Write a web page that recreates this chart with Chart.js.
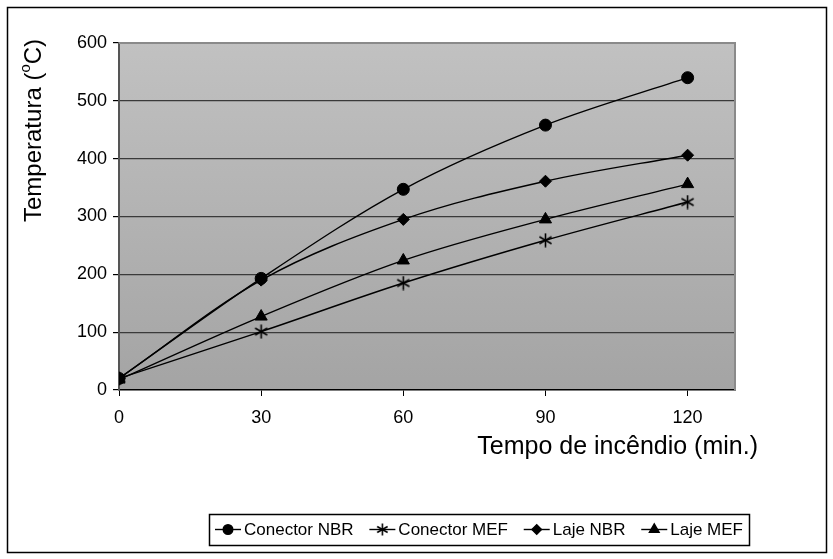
<!DOCTYPE html>
<html lang="pt">
<head>
  <meta charset="UTF-8" />
  <title>Temperatura x Tempo de incêndio</title>
  <script src="https://cdn.jsdelivr.net/npm/chart.js"></script>
  <style>
    body {
      margin: 0;
      background: #fff;
    }
    #wrap {
      width: 833px;
      height: 559px;
      position: relative;
    }
  </style>
</head>
<body>
  <div id="wrap">
    <canvas id="tempChart" width="833" height="559"></canvas>
  </div>

  <script>
    // tempo (min.) e temperaturas (oC) de cada série
    const tempos = [0, 30, 60, 90, 120];
    const conectorNBR = [20, 193, 347, 458, 540];
    const conectorMEF = [20, 101, 185, 259, 325];
    const lajeNBR = [20, 190, 295, 361, 406];
    const lajeMEF = [18, 127, 224, 295, 356];
    const nomes = ['Conector NBR', 'Conector MEF', 'Laje NBR', 'Laje MEF'];
    const yTicks = [0, 100, 200, 300, 400, 500, 600];
    const xTicks = [0, 30, 60, 90, 120];

    const FONT = 'Liberation Sans, Arial, sans-serif';

    // asterisco de seis pontas (Chart.js só tem a estrela de oito)
    function makeAsterisk(size) {
      const c = document.createElement('canvas');
      c.width = size;
      c.height = size;
      const g = c.getContext('2d');
      const r = size / 2 - 0.5;
      g.strokeStyle = '#000';
      g.lineWidth = 1.6;
      g.translate(size / 2, size / 2);
      for (let i = 0; i < 3; i++) {
        const a = Math.PI / 2 + i * Math.PI / 3;
        g.beginPath();
        g.moveTo(Math.cos(a) * r, Math.sin(a) * r);
        g.lineTo(-Math.cos(a) * r, -Math.sin(a) * r);
        g.stroke();
      }
      return c;
    }
    const asterisk = makeAsterisk(15);
    const asteriskSmall = makeAsterisk(13);

    function serie(label, valores, style, radius) {
      return {
        label: label,
        data: tempos.map((t, i) => ({ x: t, y: valores[i] })),
        borderColor: '#000',
        backgroundColor: '#000',
        borderWidth: 1.4,
        pointStyle: style,
        pointRadius: radius,
        pointBorderWidth: 1,
        cubicInterpolationMode: 'monotone',
        fill: false
      };
    }

    const datasets = [
      serie(nomes[0], conectorNBR, 'circle', 6),
      serie(nomes[1], conectorMEF, asterisk, 7),
      serie(nomes[2], lajeNBR, 'rectRot', 6),
      serie(nomes[3], lajeMEF, 'triangle', 7)
    ];

    // fundo cinza degradê, moldura, títulos dos eixos e legenda
    const decor = {
      id: 'decor',
      beforeDraw(chart) {
        const { ctx, chartArea: a } = chart;
        const grad = ctx.createLinearGradient(0, a.top, 0, a.bottom);
        grad.addColorStop(0, '#c1c1c1');
        grad.addColorStop(1, '#a4a4a4');
        ctx.save();
        ctx.fillStyle = grad;
        ctx.fillRect(a.left, a.top, a.right - a.left, a.bottom - a.top);
        ctx.restore();
      },
      afterDatasetsDraw(chart) {
        const { ctx, chartArea: a } = chart;
        ctx.save();
        // borda superior e direita da área de plotagem
        ctx.strokeStyle = '#8a8a8a';
        ctx.lineWidth = 2;
        ctx.beginPath();
        ctx.moveTo(a.left, a.top);
        ctx.lineTo(a.right, a.top);
        ctx.lineTo(a.right, a.bottom);
        ctx.stroke();
        ctx.restore();
      },
      afterDraw(chart) {
        const ctx = chart.ctx;
        ctx.save();
        // moldura externa
        ctx.strokeStyle = '#000';
        ctx.lineWidth = 1.5;
        ctx.strokeRect(7.5, 7.5, 819, 545);

        // título do eixo x
        ctx.fillStyle = '#000';
        ctx.font = '25px ' + FONT;
        ctx.textAlign = 'right';
        ctx.textBaseline = 'middle';
        ctx.fillText('Tempo de incêndio (min.)', 758, 447);

        // título do eixo y, com o "o" sobrescrito
        ctx.font = '24px ' + FONT;
        ctx.translate(41, 222);
        ctx.rotate(-Math.PI / 2);
        ctx.textAlign = 'left';
        ctx.textBaseline = 'alphabetic';
        let x = 0;
        const p1 = 'Temperatura (';
        ctx.fillText(p1, x, 0);
        x += ctx.measureText(p1).width;
        ctx.font = '15px ' + FONT;
        ctx.fillText('o', x, -11);
        x += ctx.measureText('o').width;
        ctx.font = '24px ' + FONT;
        ctx.fillText('C)', x, 0);
        ctx.restore();

        drawLegend(chart);
      }
    };

    function drawMarker(ctx, ds, cx, cy) {
      const style = ds.pointStyle === asterisk ? asteriskSmall : ds.pointStyle;
      Chart.helpers.drawPoint(ctx, {
        pointStyle: style,
        radius: ds.pointRadius * 0.8,
        rotation: 0,
        borderWidth: 1
      }, cx, cy);
    }

    function drawLegend(chart) {
      const ctx = chart.ctx;
      const box = { left: 209, top: 514, right: 749, bottom: 545 };
      const cy = (box.top + box.bottom) / 2;
      ctx.save();
      ctx.fillStyle = '#fff';
      ctx.fillRect(box.left, box.top, box.right - box.left, box.bottom - box.top);
      ctx.strokeStyle = '#000';
      ctx.lineWidth = 1.5;
      ctx.strokeRect(box.left + 0.5, box.top + 0.5, box.right - box.left, box.bottom - box.top);

      ctx.font = '17px ' + FONT;
      ctx.textBaseline = 'middle';
      const sampleW = 26;
      const pad = 6;
      const textGap = 3;
      const widths = nomes.map(n => ctx.measureText(n).width);
      const used = widths.reduce((s, w) => s + w, 0) + nomes.length * (sampleW + textGap);
      const spacing = (box.right - box.left - 2 * pad - used) / (nomes.length - 1);

      let x = box.left + pad;
      chart.data.datasets.forEach((ds, i) => {
        ctx.strokeStyle = '#000';
        ctx.fillStyle = '#000';
        ctx.lineWidth = 1.4;
        ctx.beginPath();
        ctx.moveTo(x, cy);
        ctx.lineTo(x + sampleW, cy);
        ctx.stroke();
        drawMarker(ctx, ds, x + sampleW / 2, cy);
        x += sampleW + textGap;
        ctx.fillStyle = '#000';
        ctx.fillText(nomes[i], x, cy + 1);
        x += widths[i] + spacing;
      });
      ctx.restore();
    }

    const ctx = document.getElementById('tempChart').getContext('2d');
    new Chart(ctx, {
      type: 'line',
      data: { datasets: datasets },
      plugins: [decor],
      options: {
        responsive: false,
        animation: false,
        events: [],
        layout: { padding: { left: 0, top: 43, right: 98, bottom: 0 } },
        plugins: {
          legend: { display: false },
          tooltip: { enabled: false }
        },
        scales: {
          x: {
            type: 'linear',
            min: 0,
            max: 130,
            afterBuildTicks(scale) {
              scale.ticks = xTicks.map(v => ({ value: v }));
            },
            afterFit(scale) { scale.height = 169; },
            grid: {
              drawOnChartArea: false,
              drawTicks: true,
              tickLength: 6,
              tickColor: '#000'
            },
            border: { color: '#000', width: 1.5 },
            ticks: {
              color: '#000',
              padding: 11,
              maxRotation: 0,
              font: { family: FONT, size: 18 }
            }
          },
          y: {
            min: 0,
            max: 600,
            afterBuildTicks(scale) {
              scale.ticks = yTicks.map(v => ({ value: v }));
            },
            afterFit(scale) { scale.width = 119; },
            grid: {
              color: ctx => (ctx.tick && (ctx.tick.value === 0 || ctx.tick.value === 600)) ? 'rgba(0,0,0,0)' : '#3a3a3a',
              lineWidth: 1.2,
              tickLength: 6,
              tickColor: '#000'
            },
            border: { color: '#555', width: 2 },
            ticks: {
              color: '#000',
              padding: 6,
              font: { family: FONT, size: 18 }
            }
          }
        }
      }
    });
  </script>
</body>
</html>
